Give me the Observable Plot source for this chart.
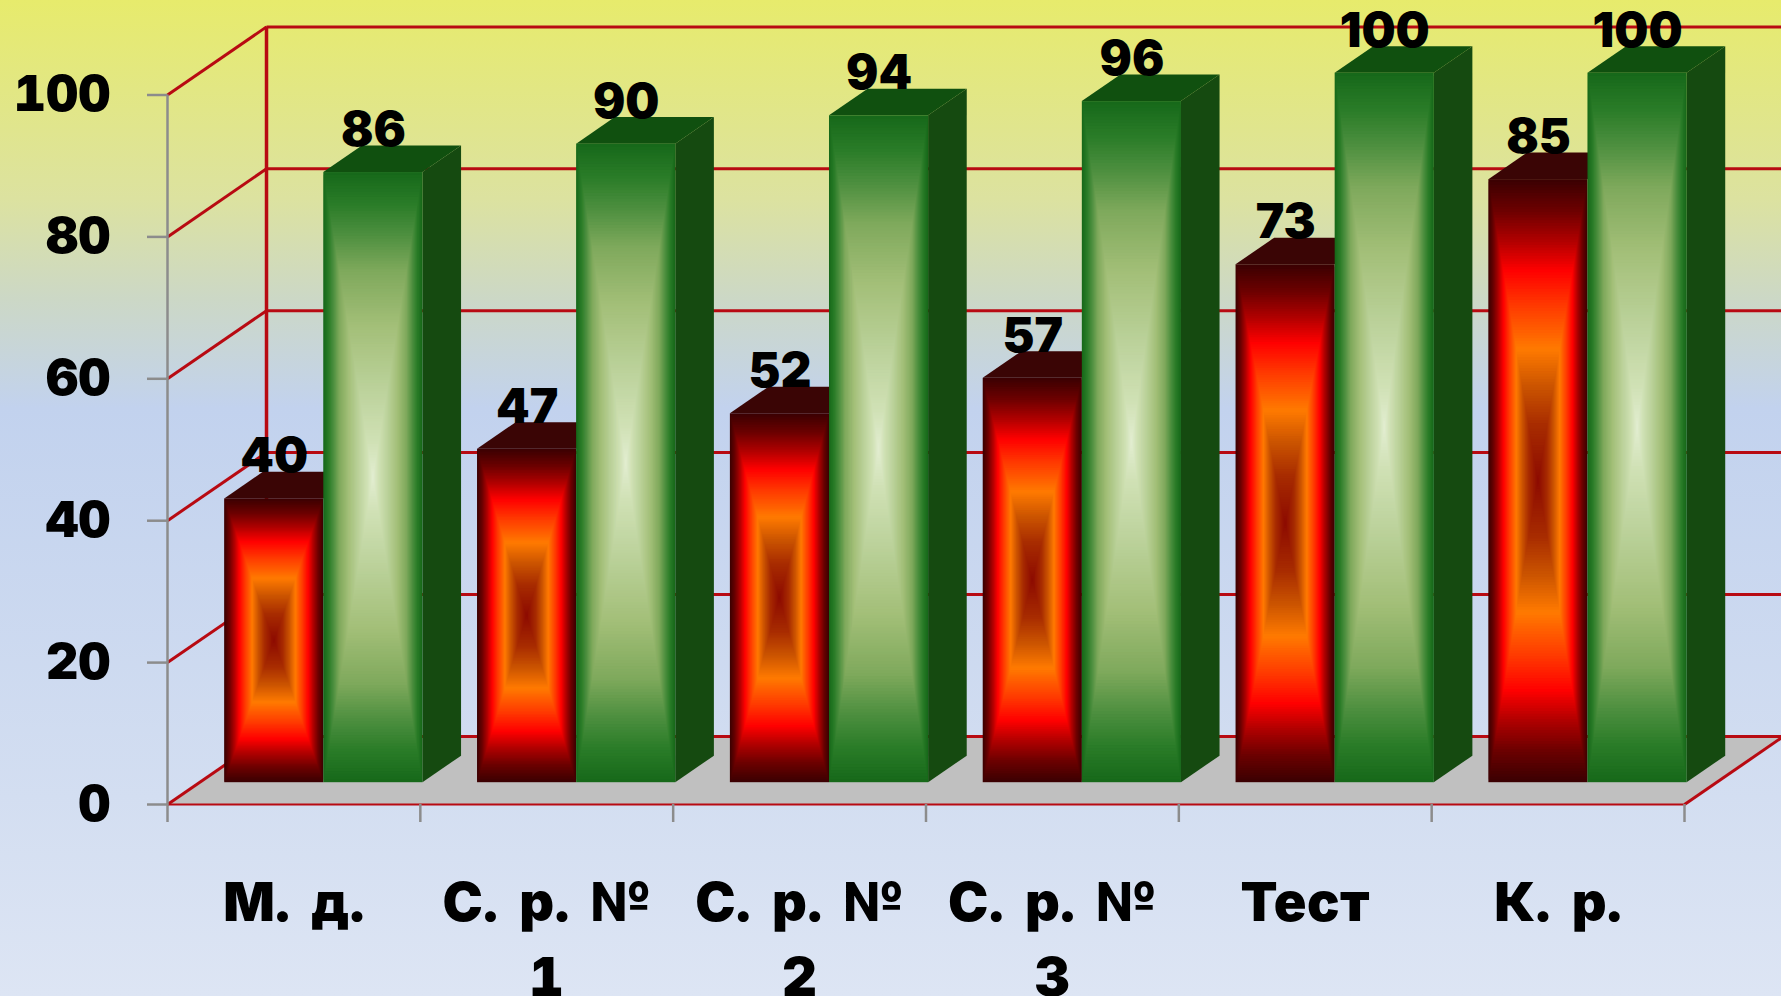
<!DOCTYPE html>
<html>
<head>
<meta charset="utf-8">
<script src="https://cdn.jsdelivr.net/npm/d3@7"></script>
<script src="https://cdn.jsdelivr.net/npm/@observablehq/plot@0.6"></script>
<style>
  html, body { margin: 0; padding: 0; overflow: hidden; background: #dde5f3; }
  svg { display: block; }
  g[aria-label="x-axis tick label"] { word-spacing: 6px; letter-spacing: 0.5px; }
</style>
</head>
<body>
<div id="chart"></div>
<script>
// Values per assessment, two series side by side
const categories = ["М. д.", "С. р. №\n1", "С. р. №\n2", "С. р. №\n3", "Тест", "К. р."];
const redValues = [40, 47, 52, 57, 73, 85];
const greenValues = [86, 90, 94, 96, 100, 100];
const gridValues = [0, 20, 40, 60, 80, 100];

// Oblique projection expressed in scale units: one unit of depth moves a point
// right along x and up along y.
const shearX = 0.3916;
const shearY = 9.6;
const barGap = 0.101;
const barWidth = 0.392;
const barFront = 0.32;
const barDepth = 0.39;

// Colour ramps from the rim of a bar face (0) to its centre (1)
const redRamp = d3.scaleLinear()
  .domain([0, 0.1, 0.2, 0.3, 0.42, 0.56, 0.68, 0.81, 1])
  .range(["#3c0002", "#6c0000", "#b00000", "#ff0000", "#ff3c00", "#ff7a00", "#cc5500", "#a82c00", "#8c0a00"])
  .interpolate(d3.interpolateRgb);
const greenRamp = d3.scaleLinear()
  .domain([0, 0.1, 0.2, 0.32, 0.5, 0.72, 0.88, 1])
  .range(["#17691a", "#2a7c28", "#4d8f3f", "#7fa95c", "#a3bf78", "#bdd39d", "#d0e1b5", "#e3eed2"])
  .interpolate(d3.interpolateRgb);

const ringCount = 110;
const ringSteps = d3.range(ringCount).map(i => i / ringCount);

// One row per bar, with its front-left corner along x
function barRows(values, slot) {
  return values.map((value, i) => ({
    value,
    left: i + barGap + slot * barWidth + barFront * shearX,
    base: barFront * shearY
  }));
}

// Concentric rectangles that build the "from centre" shading of a bar face
function faceRings(rows, ramp) {
  return rows.flatMap(b => ringSteps.map(t => ({
    x1: b.left + barWidth * t / 2,
    x2: b.left + barWidth * (1 - t / 2),
    y1: b.base + b.value * t / 2,
    y2: b.base + b.value * (1 - t / 2),
    color: ramp(t)
  })));
}

// Top face: a parallelogram running back from the front edge of the bar
function topRows(rows) {
  return rows.flatMap((b, id) => [0, barDepth].map(z => ({
    id,
    y: b.base + b.value + z * shearY,
    x1: b.left + z * shearX,
    x2: b.left + barWidth + z * shearX
  })));
}

// Right face: a parallelogram running back from the right edge of the bar
function sideRows(rows) {
  return rows.flatMap((b, id) => [0, barDepth].map(z => ({
    id,
    x: b.left + barWidth + z * shearX,
    y1: b.base + z * shearY,
    y2: b.base + b.value + z * shearY
  })));
}

const reds = barRows(redValues, 0);
const greens = barRows(greenValues, 1);

const floorRows = [
  {y: 0, x1: 0, x2: 6},
  {y: shearY, x1: shearX, x2: 6 + shearX}
];

const wallColor = "#b80a12";
const axisGray = "#8c8c8c";
const font = {fontFamily: "Inter", fontWeight: 900};

function valueLabels(rows) {
  return Plot.text(rows, {
    x: b => b.left + barWidth / 2,
    y: b => b.base + b.value + barDepth * shearY,
    text: b => String(b.value),
    textAnchor: "middle",
    lineAnchor: "bottom",
    dy: 0,
    fontSize: 48,
    fill: "black",
    ...font
  });
}

const chart = Plot.plot({
  width: 1781,
  height: 996,
  marginLeft: 167,
  marginRight: 97,
  marginTop: 94.5,
  marginBottom: 192,
  x: {type: "linear", domain: [0, 6]},
  y: {type: "linear", domain: [0, 100]},
  color: {type: "identity"},
  style: {
    background: "linear-gradient(180deg, #e7eb6c 0%, #dce2a0 20%, #ccd8c6 30%, #c2d2ee 41%, #d3def1 80%, #dde5f4 100%)",
    overflow: "hidden"
  },
  marks: [
    // Floor and the wire frame of the two walls
    Plot.areaX(floorRows, {y: "y", x1: "x1", x2: "x2", fill: "#c0c0c0"}),
    Plot.link(gridValues, {x1: 0, x2: shearX, y1: d => d, y2: d => d + shearY, stroke: wallColor, strokeWidth: 3}),
    Plot.link(gridValues, {x1: shearX, x2: 6 + shearX, y1: d => d + shearY, y2: d => d + shearY, stroke: wallColor, strokeWidth: 3}),
    Plot.ruleX([shearX], {y1: shearY, y2: 100 + shearY, stroke: wallColor, strokeWidth: 3.5}),
    Plot.link([0], {x1: 0, x2: 6, y1: 0, y2: 0, stroke: wallColor, strokeWidth: 2}),
    Plot.link([6], {x1: 6, x2: 6 + shearX, y1: 0, y2: shearY, stroke: wallColor, strokeWidth: 3}),

    // Axis line, ticks and tick labels
    Plot.ruleX([0], {y1: 0, y2: 100, stroke: axisGray, strokeWidth: 2.5}),
    Plot.axisY({
      ticks: gridValues, anchor: "left", label: null, stroke: axisGray, strokeWidth: 2.5,
      fill: "black", tickSize: 20, tickPadding: 37, fontSize: 50, ...font
    }),
    Plot.axisX({
      ticks: d3.range(0, 7), anchor: "bottom", label: null, stroke: axisGray, strokeWidth: 2.5,
      fill: "none", tickSize: 18
    }),
    Plot.axisX({
      ticks: categories.map((_, i) => i + 0.5), anchor: "bottom", label: null,
      tickFormat: d => categories[d - 0.5], tickSize: 0, tickPadding: 64,
      fill: "black", lineHeight: 1.38, fontSize: 54, ...font
    }),

    // Red series
    Plot.areaX(topRows(reds), {y: "y", x1: "x1", x2: "x2", z: "id", fill: "#3a0505"}),
    Plot.rect(faceRings(reds, redRamp), {x1: "x1", x2: "x2", y1: "y1", y2: "y2", fill: "color"}),

    // Green series
    Plot.areaX(topRows(greens), {y: "y", x1: "x1", x2: "x2", z: "id", fill: "#10500f"}),
    Plot.areaY(sideRows(greens), {x: "x", y1: "y1", y2: "y2", z: "id", fill: "#154a10"}),
    Plot.rect(faceRings(greens, greenRamp), {x1: "x1", x2: "x2", y1: "y1", y2: "y2", fill: "color"}),

    // Value labels above each bar
    valueLabels(reds),
    valueLabels(greens)
  ]
});

document.getElementById("chart").appendChild(chart);
</script>
</body>
</html>
